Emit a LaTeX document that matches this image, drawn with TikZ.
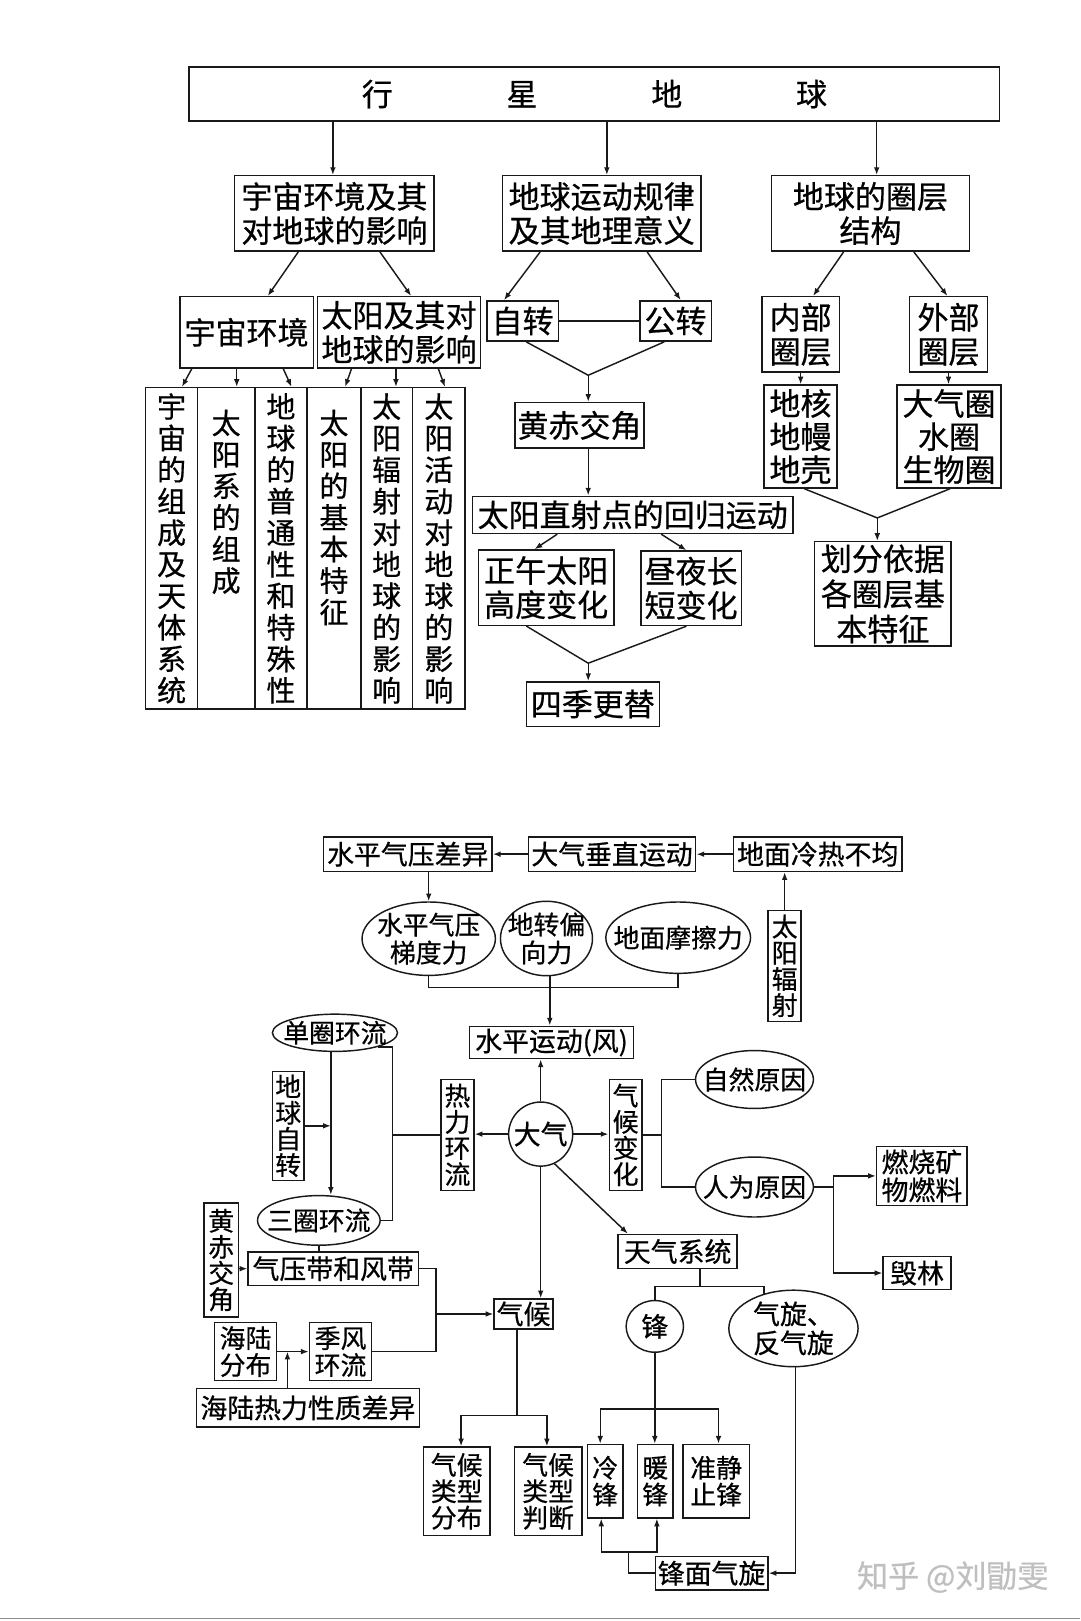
\documentclass[tikz,border=0pt]{standalone}
\usepackage{fontspec}
\setmainfont{Noto Sans CJK SC}[FakeBold=0.6]
\usetikzlibrary{arrows.meta,calc,shapes.geometric}
\tikzset{
  ln/.style={line width=1.4pt, draw=black!90},
  arr/.style={line width=1.4pt, draw=black!90, -{Latex[length=7.5pt,width=5.5pt]}},
  box/.style={draw=black!90, line width=1.4pt, inner sep=0pt, align=center},
  ell/.style={draw=black!90, line width=1.4pt, ellipse, inner sep=0pt},
  ft/.style={font=\fontsize{30}{33}\selectfont},
  fb/.style={font=\fontsize{26}{28}\selectfont},
  fe/.style={font=\fontsize{25}{27}\selectfont, inner sep=0pt, align=center},
  fv/.style={font=\fontsize{25}{25.3}\selectfont},
  fc/.style={font=\fontsize{28}{30.5}\selectfont},
}
\begin{document}
\begin{tikzpicture}[x=1pt,y=-1pt]
\useasboundingbox[fill=white] (0,0) rectangle (1045,1568);

% ---------------- top part ----------------
\node[box, ft, minimum width=784, minimum height=52] (top) at (575,91) {行\hspace{110pt}星\hspace{110pt}地\hspace{110pt}球};
\node[box, ft, minimum width=193, minimum height=73] (A) at (323.5,206.5) {宇宙环境及其\\对地球的影响};
\node[box, ft, minimum width=192, minimum height=73] (B) at (582,206.5) {地球运动规律\\及其地理意义};
\node[box, ft, minimum width=192, minimum height=73] (C) at (842,206.5) {地球的圈层\\结构};

\node[box, ft, minimum width=129, minimum height=69] (A1) at (238.5,321.5) {宇宙环境};
\node[box, ft, minimum width=158, minimum height=69] (A2) at (386,321.5) {太阳及其对\\地球的影响};
\node[box, ft, minimum width=69, minimum height=39] (B1) at (505.5,310.5) {自转};
\node[box, ft, minimum width=69, minimum height=39] (B2) at (653.5,310.5) {公转};
\node[box, ft, minimum width=125, minimum height=44] (HJ) at (560.5,411.5) {黄赤交角};
\node[box, ft, minimum width=310, minimum height=36] (TY) at (612,498) {太阳直射点的回归运动};
\node[box, ft, minimum width=131.4, minimum height=72.8] (ZW) at (528.3,568.4) {正午太阳\\高度变化};
\node[box, ft, minimum width=97, minimum height=72] (ZY) at (668.5,569) {昼夜长\\短变化};
\node[box, ft, minimum width=128.7, minimum height=43] (SJ) at (573.4,681) {四季更替};

\node[box, ft, minimum width=75, minimum height=73] (C1) at (774.5,323.5) {内部\\圈层};
\node[box, ft, minimum width=75, minimum height=73] (C2) at (917.5,323.5) {外部\\圈层};
\node[box, font=\fontsize{30}{32}\selectfont, minimum width=70.6, minimum height=99.5] (D1) at (774.3,422.3) {地核\\地幔\\地壳};
\node[box, font=\fontsize{30}{32}\selectfont, minimum width=100.7, minimum height=99.5] (D2) at (918,422.3) {大气圈\\水圈\\生物圈};
\node[box, font=\fontsize{30}{34}\selectfont, minimum width=132, minimum height=101] (HF) at (854,574.5) {划分依据\\各圈层基\\本特征};

% columns
\node[box, fc, minimum width=50, minimum height=311] (k1) at (166,530.5) {宇\\宙\\的\\组\\成\\及\\天\\体\\系\\统};
\node[box, fc, minimum width=55.5, minimum height=311] (k2) at (218.75,530.5) {};
\node[box, fc, minimum width=50.5, minimum height=311] (k3) at (271.75,530.5) {地\\球\\的\\普\\通\\性\\和\\特\\殊\\性};
\node[box, fc, minimum width=52, minimum height=311] (k4) at (323,530.5) {};
\node[box, fc, minimum width=50, minimum height=311] (k5) at (374,530.5) {太\\阳\\辐\\射\\对\\地\\球\\的\\影\\响};
\node[box, fc, minimum width=51, minimum height=311] (k6) at (424.5,530.5) {太\\阳\\活\\动\\对\\地\\球\\的\\影\\响};
\node[fc, inner sep=0pt, align=center, anchor=north] (t2) at (218.75,396) {太\\阳\\系\\的\\组\\成};
\node[fc, inner sep=0pt, align=center, anchor=north] (t4) at (323,396) {太\\阳\\的\\基\\本\\特\\征};

% top connectors
\coordinate (xA) at (322,0);
\coordinate (xB) at (587,0);
\coordinate (xC) at (848,0);
\draw[arr] (xA |- top.south) -- (xA |- A.north);
\draw[arr] (xB |- top.south) -- (xB |- B.north);
\draw[arr] (xC |- top.south) -- (xC |- C.north);

\draw[arr] ($(A.south)+(-35,0)$) -- ($(A1.north)+(20.5,0)$);
\draw[arr] ($(A.south)+(44,0)$) -- ($(A2.north)+(11.7,0)$);
\draw[arr] ($(B.south)+(-59.5,0)$) -- ($(B1.north)+(-18,0)$);
\draw[arr] ($(B.south)+(44,0)$) -- ($(B2.north)+(5,0)$);
\draw[arr] ($(C.south)+(-26,0)$) -- ($(C1.north)+(12,0)$);
\draw[arr] ($(C.south)+(42,0)$) -- ($(C2.north)+(-1,0)$);

\draw[arr] ($(A1.south)+(-53,0)$) -- ($(k1.north)+(10,0)$);
\draw[arr] ($(A1.south)+(-9.5,0)$) -- ($(k2.north)+(10.25,0)$);
\draw[arr] ($(A1.south)+(35.5,0)$) -- ($(k3.north)+(10.25,0)$);
\draw[arr] ($(A2.south)+(-46,0)$) -- ($(k4.north)+(10.8,0)$);
\draw[arr] ($(A2.south)+(-3,0)$) -- ($(k5.north)+(9,0)$);
\draw[arr] ($(A2.south)+(38,0)$) -- ($(k6.north)+(6,0)$);

\draw[ln] (B1) -- (B2);
\coordinate (j1) at (569,363);
\draw[ln] ($(B1.south)+(3.5,0)$) -- (j1) -- ($(B2.south)+(-11,0)$);
\draw[arr] (j1) -- (j1 |- HJ.north);
\draw[arr] (j1 |- HJ.south) -- (j1 |- TY.north);
\draw[arr] ($(TY.south)+(-73,0)$) -- ($(ZW.north)+(-11.3,0)$);
\draw[arr] ($(TY.south)+(27.6,0)$) -- ($(ZY.north)+(-4.5,0)$);
\coordinate (j2) at (569,641.5);
\draw[ln] ($(ZW.south)+(-19.3,0)$) -- (j2) -- ($(ZY.south)+(-4.5,0)$);
\draw[arr] (j2) -- (j2 |- SJ.north);

\draw[arr] (C1.south) -- (C1.south |- D1.north);
\draw[arr] (C2.south) -- (C2.south |- D2.north);
\coordinate (j3) at (848.6,501);
\draw[ln] ($(D1.south)+(3.7,0)$) -- (j3) -- ($(D2.south)+(1,0)$);
\draw[arr] (j3) -- (j3 |- HF.north);

% ---------------- bottom part ----------------
\node[box, fb, minimum width=163, minimum height=33.5] (SP) at (394.5,826.25) {水平气压差异};
\node[box, fb, minimum width=162, minimum height=33.5] (CZ) at (592,826.25) {大气垂直运动};
\node[box, fb, minimum width=163, minimum height=33.5] (DM) at (791,826.25) {地面冷热不均};
\node[box, fv, minimum width=32, minimum height=107.5] (TF) at (759,934.25) {太\\阳\\辐\\射};

\node[ell, minimum width=129, minimum height=71] (E1) at (414.7,908) {};
\node[fe] (E1t) at (E1) {水平气压\\梯度力};
\node[ell, minimum width=89, minimum height=72] (E2) at (528.6,907.8) {};
\node[fe] (E2t) at (E2) {地转偏\\向力};
\node[ell, minimum width=140, minimum height=69] (E3) at (656,907) {};
\node[fe] (E3t) at (E3) {地面摩擦力};

\node[box, fb, minimum width=159, minimum height=31.3] (WF) at (533.5,1008.4) {水平运动(风)};
\node[circle, draw=black!90, line width=1.4pt, inner sep=0pt, minimum size=62, fb] (DQ) at (523,1097) {大气};
\node[box, fv, minimum width=32, minimum height=107.5] (RL) at (442.5,1097.75) {热\\力\\环\\流};
\node[ell, minimum width=121, minimum height=36] (DQ1) at (324,999) {};
\node[fe] (DQ1t) at (DQ1) {单圈环流};
\node[ell, minimum width=118.6, minimum height=48] (SQ) at (308.4,1180.5) {};
\node[fe] (SQt) at (SQ) {三圈环流};
\node[box, fv, minimum width=30.5, minimum height=105.5] (ZZ) at (278.75,1089) {地\\球\\自\\转};
\node[box, fb, minimum width=164.7, minimum height=32.4] (QY) at (322.35,1227.2) {气压带和风带};
\node[box, fv, minimum width=33.2, minimum height=110.3] (HC) at (214,1218.85) {黄\\赤\\交\\角};
\node[box, fb, minimum width=57, minimum height=29] (QH) at (506.5,1271) {气候};
\node[box, font=\fontsize{25}{26}\selectfont, minimum width=60.3, minimum height=55.8] (JF) at (329.45,1307.4) {季风\\环流};
\node[box, font=\fontsize{25}{26}\selectfont, minimum width=60.3, minimum height=55.8] (HL) at (237.55,1307.4) {海陆\\分布};
\node[box, fb, minimum width=215.7, minimum height=37.1] (HR) at (297.85,1361.85) {海陆热力性质差异};

\node[box, fv, minimum width=31.7, minimum height=107.5] (QB) at (605.15,1097.75) {气\\候\\变\\化};
\node[ell, minimum width=114, minimum height=56] (ZR) at (729.8,1044.2) {};
\node[fe] (ZRt) at (ZR) {自然原因};
\node[ell, minimum width=114, minimum height=58] (RW) at (729.8,1148.2) {};
\node[fe] (RWt) at (RW) {人为原因};
\node[box, font=\fontsize{26}{27}\selectfont, minimum width=87.5, minimum height=57.1] (RS) at (891.75,1137.45) {燃烧矿\\物燃料};
\node[box, fb, minimum width=65.6, minimum height=32.2] (HLn) at (887.1,1231.4) {毁林};
\node[box, fb, minimum width=115, minimum height=33.2] (TQ) at (655.5,1210.6) {天气系统};
\node[ell, fb, minimum width=55.5, minimum height=50] (F) at (633.4,1283) {锋};
\node[ell, minimum width=125, minimum height=74] (QX) at (767.5,1285) {};
\node[fe, font=\fontsize{26}{28}\selectfont] (QXt) at (QX) {气旋、\\反气旋};
\node[box, font=\fontsize{25}{26}\selectfont, minimum width=34.2, minimum height=71] (LF) at (585.4,1432.7) {冷\\锋};
\node[box, font=\fontsize{25}{26}\selectfont, minimum width=34.2, minimum height=71] (NF) at (633.8,1432.7) {暖\\锋};
\node[box, font=\fontsize{25}{26}\selectfont, minimum width=64.5, minimum height=71] (ZJ) at (692.75,1432.7) {准静\\止锋};
\node[box, fb, minimum width=109, minimum height=32.2] (MQ) at (688.3,1521.7) {锋面气旋};
\node[box, font=\fontsize{25}{25.5}\selectfont, minimum width=64.4, minimum height=85.4] (LX1) at (441.8,1442.5) {气候\\类型\\分布};
\node[box, font=\fontsize{25}{25.5}\selectfont, minimum width=65.2, minimum height=85.4] (LX2) at (530.2,1442.5) {气候\\类型\\判断};

% bottom connectors
\draw[arr] (CZ) -- (SP);
\draw[arr] (DM) -- (CZ);
\draw[arr] (TF.north) -- (TF.north |- DM.south);
\draw[arr] (E1.north |- SP.south) -- (E1.north);
\coordinate (jb) at (531.8,955);
\draw[ln] (E1.south) |- (jb) -| (E3.south);
\draw[arr] (jb |- E2.south) -- (jb |- WF.north);

\draw[arr] (DQ.north) -- (DQ.north |- WF.south);
\draw[arr] (DQ.west) -- (DQ.west -| RL.east);
\coordinate (c2) at (379.6,1180.5);
\draw[ln] (DQ1.-18) -| (c2) -- (SQ.east);
\draw[ln] (RL.west) -- (RL.west -| c2);
\coordinate (v1) at (320,0);
\draw[arr] (v1 |- DQ1.south) -- (v1 |- SQ.north);
\draw[arr] (ZZ.east) -- (ZZ.east -| v1);
\draw[ln] (SQ.south) -- (SQ.south |- QY.north);
\draw[arr] (QY.west -| HC.east) -- (QY.west);
\coordinate (c4) at (421.9,1307.4);
\draw[ln] (QY.east) -| (c4) -- (JF.east);
\draw[arr] (QH.west -| c4) -- (QH.west);
\draw[arr] (HL) -- (JF);
\coordinate (v2) at (278,0);
\draw[arr] (v2 |- HR.north) -- (v2 |- HL.east);
\draw[arr] (DQ.south) -- (DQ.south |- QH.north);

\draw[arr] (DQ.east) -- (DQ.east -| QB.west);
\coordinate (c5) at (640,1097.75);
\draw[ln] (QB.east) -- (c5);
\draw[ln] (ZR.west) -| (c5) |- (RW.west);
\coordinate (c6) at (806,1148.2);
\draw[ln] (RW.east) -- (c6);
\draw[arr] (c6) |- (RS.west);
\draw[arr] (c6) |- (HLn.west);

\draw[arr] (DQ.-65) -- ($(TQ.north west)+(10,0)$);
\coordinate (c7) at (677.3,1244.3);
\draw[ln] ($(TQ.south)+(21.8,0)$) -- (c7);
\draw[ln] (F.north) |- (c7) -| (QX.130);
\draw[arr] (F.south) -- (F.south |- NF.north);
\coordinate (c8) at (633.4,1362.7);
\coordinate (x2) at (580.6,0);
\coordinate (x3) at (695,0);
\draw[arr] (c8) -| (x2 |- LF.north);
\draw[arr] (c8) -| (x3 |- ZJ.north);
\coordinate (x4) at (769.5,0);
\draw[arr] (x4 |- QX.south) |- (MQ.east);
\coordinate (c9) at (608,1501.4);
\draw[ln] (MQ.west) -| (c9);
\coordinate (x5) at (581.6,0);
\coordinate (x6) at (635.4,0);
\draw[arr] (c9) -| (x5 |- LF.south);
\draw[arr] (c9) -| (x6 |- NF.south);

\coordinate (c10) at (500,1369);
\draw[ln] (c10 |- QH.south) -- (c10);
\coordinate (x7) at (446,0);
\coordinate (x8) at (529,0);
\draw[arr] (c10) -| (x7 |- LX1.north);
\draw[arr] (c10) -| (x8 |- LX2.north);

% watermark and bottom edge
\node[text=black!25, font=\fontsize{30}{32}\selectfont, inner sep=0pt] (wm) at (921.6,1525.5) {知乎 @刘勖雯};
\draw[black!45, line width=1pt] (0,1565.5) -- (1045,1565.5);
\end{tikzpicture}
\end{document}
